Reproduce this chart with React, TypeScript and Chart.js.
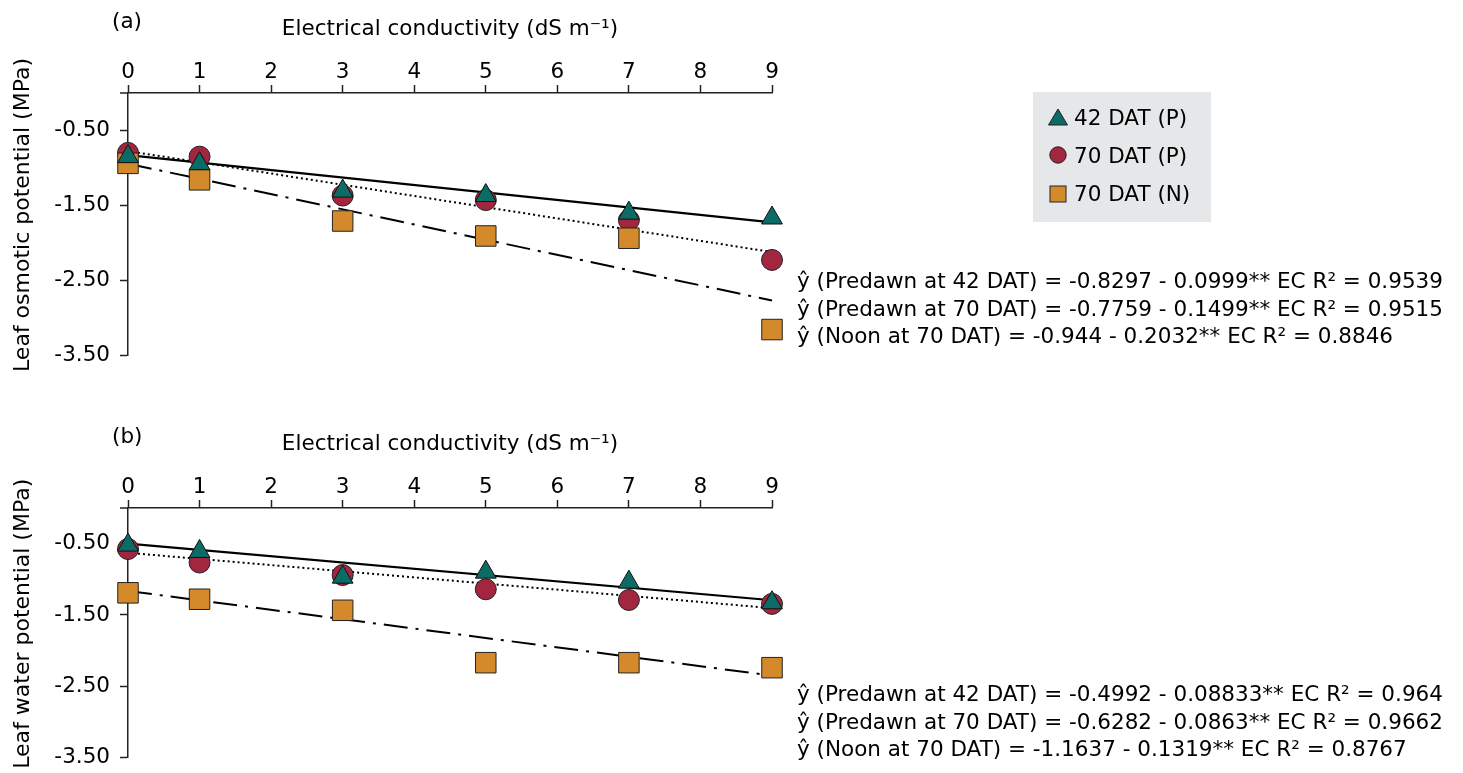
import React, { useEffect, useRef } from "react";
import { Chart, registerables } from "chart.js";

Chart.register(...registerables);

// ---------- data ----------
const ecLevels = [0, 1, 3, 5, 7, 9];
const xTickValues = [0, 1, 2, 3, 4, 5, 6, 7, 8, 9];
const yTickValues = [-0.5, -1.5, -2.5, -3.5];
const fitEC = [0, 9];
const seriesLabels = ["42 DAT (P)", "70 DAT (P)", "70 DAT (N)"];

// Panel (a) leaf osmotic potential
const osmotic42P = [-0.85, -0.945, -1.31, -1.37, -1.605, -1.67];
const osmotic70P = [-0.8, -0.85, -1.37, -1.43, -1.7, -2.23];
const osmotic70N = [-0.94, -1.16, -1.71, -1.91, -1.94, -3.16];
const osmoticFit42P = [-0.8297, -1.7288];
const osmoticFit70P = [-0.7759, -2.125];
const osmoticFit70N = [-0.944, -2.7728];
const osmoticEquations = [
  "ŷ (Predawn at 42 DAT) = -0.8297 - 0.0999** EC R² = 0.9539",
  "ŷ (Predawn at 70 DAT) = -0.7759 - 0.1499** EC R² = 0.9515",
  "ŷ (Noon at 70 DAT) = -0.944 - 0.2032** EC R² = 0.8846",
];

// Panel (b) leaf water potential
const water42P = [-0.52, -0.61, -0.97, -0.9, -1.04, -1.33];
const water70P = [-0.575, -0.765, -0.94, -1.14, -1.29, -1.345];
const water70N = [-1.19, -1.28, -1.435, -2.17, -2.17, -2.24];
const waterFit42P = [-0.4992, -1.2942];
const waterFit70P = [-0.6282, -1.4049];
const waterFit70N = [-1.1637, -2.3508];
const waterEquations = [
  "ŷ (Predawn at 42 DAT) = -0.4992 - 0.08833** EC R² = 0.964",
  "ŷ (Predawn at 70 DAT) = -0.6282 - 0.0863** EC R² = 0.9662",
  "ŷ (Noon at 70 DAT) = -1.1637 - 0.1319** EC R² = 0.8767",
];

// ---------- styles ----------
const TEAL = "#0c6b65";
const RED = "#a3263f";
const ORANGE = "#d4892a";
const AXIS = "#222";
const FONT = '"DejaVu Sans", sans-serif';
const FONT_SIZE = 21.5;

const toPts = (xs: number[], ys: number[]) => xs.map((x, i) => ({ x, y: ys[i] }));

const annotPlugin = {
  id: "annot",
  afterDraw(chart: any, _args: any, opts: any) {
    const ctx = chart.ctx as CanvasRenderingContext2D;
    const { left, top } = chart.chartArea;
    ctx.save();
    // small extension of the x axis left of the y axis
    ctx.strokeStyle = AXIS;
    ctx.lineWidth = 1.5;
    ctx.beginPath();
    ctx.moveTo(left - 8, top);
    ctx.lineTo(left, top);
    ctx.stroke();

    ctx.fillStyle = "#000";
    ctx.textBaseline = "alphabetic";
    ctx.textAlign = "left";
    ctx.font = `${FONT_SIZE}px ${FONT}`;
    ctx.fillText(opts.label, 112, 28);

    ctx.font = `${FONT_SIZE}px ${FONT}`;
    (opts.equations as string[]).forEach((t, i) => {
      ctx.fillText(t, 797, opts.eqY + i * 27.5);
    });

    if (opts.legend) {
      ctx.fillStyle = "#e6e7e9";
      ctx.fillRect(1033, 92, 178, 130);
      ctx.strokeStyle = "#222";
      ctx.lineWidth = 1;
      // triangle
      ctx.fillStyle = TEAL;
      ctx.beginPath();
      ctx.moveTo(1058, 109);
      ctx.lineTo(1067.5, 125);
      ctx.lineTo(1048.5, 125);
      ctx.closePath();
      ctx.fill();
      ctx.stroke();
      // circle
      ctx.fillStyle = RED;
      ctx.beginPath();
      ctx.arc(1058, 155, 8.2, 0, Math.PI * 2);
      ctx.fill();
      ctx.stroke();
      // square
      ctx.fillStyle = ORANGE;
      ctx.fillRect(1050, 186, 16, 16);
      ctx.strokeRect(1050, 186, 16, 16);

      ctx.fillStyle = "#000";
      ctx.font = `${FONT_SIZE}px ${FONT}`;
      const ys = [125, 163, 201];
      seriesLabels.forEach((t, i) => ctx.fillText(t, 1074, ys[i]));
    }
    ctx.restore();
  },
};

function buildConfig(
  v42: number[],
  v70P: number[],
  v70N: number[],
  f42: number[],
  f70P: number[],
  f70N: number[],
  yTitle: string,
  bottomPad: number,
  annot: any
): any {
  return {
    type: "scatter",
    data: {
      datasets: [
        {
          label: "fit 42 DAT (P)",
          data: toPts(fitEC, f42),
          showLine: true,
          borderColor: "#000",
          borderWidth: 2.2,
          pointRadius: 0,
          order: 10,
          clip: false,
        },
        {
          label: "fit 70 DAT (P)",
          data: toPts(fitEC, f70P),
          showLine: true,
          borderColor: "#000",
          borderWidth: 2,
          borderDash: [2, 3],
          pointRadius: 0,
          order: 11,
          clip: false,
        },
        {
          label: "fit 70 DAT (N)",
          data: toPts(fitEC, f70N),
          showLine: true,
          borderColor: "#000",
          borderWidth: 2,
          borderDash: [24, 8, 3, 8],
          pointRadius: 0,
          order: 12,
          clip: false,
        },
        {
          label: seriesLabels[1],
          data: toPts(ecLevels, v70P),
          pointStyle: "circle",
          pointRadius: 10.5,
          backgroundColor: RED,
          borderColor: "#222",
          borderWidth: 1,
          order: 3,
          clip: false,
        },
        {
          label: seriesLabels[2],
          data: toPts(ecLevels, v70N),
          pointStyle: "rect",
          pointRadius: 14.5,
          backgroundColor: ORANGE,
          borderColor: "#222",
          borderWidth: 1,
          order: 2,
          clip: false,
        },
        {
          label: seriesLabels[0],
          data: toPts(ecLevels, v42),
          pointStyle: "triangle",
          pointRadius: 12,
          backgroundColor: TEAL,
          borderColor: "#111",
          borderWidth: 1,
          order: 1,
          clip: false,
        },
      ],
    },
    options: {
      animation: false,
      responsive: false,
      maintainAspectRatio: false,
      layout: { padding: { left: 0, top: 0, right: 1463 - 772, bottom: bottomPad } },
      plugins: {
        legend: { display: false },
        tooltip: { enabled: false },
        annot,
      },
      scales: {
        x: {
          type: "linear",
          position: "top",
          min: 0,
          max: 9,
          afterBuildTicks: (s: any) => {
            s.ticks = xTickValues.map((v) => ({ value: v }));
          },
          afterFit: (s: any) => {
            s.height = 93;
          },
          ticks: {
            color: "#000",
            font: { family: FONT, size: FONT_SIZE },
            padding: 0,
            autoSkip: false,
            maxRotation: 0,
          },
          grid: {
            display: true,
            drawOnChartArea: false,
            drawTicks: true,
            tickLength: 8,
            tickColor: AXIS,
            tickWidth: 1.5,
          },
          border: { display: true, color: AXIS, width: 1.5 },
          title: {
            display: true,
            text: "Electrical conductivity (dS m⁻¹)",
            color: "#000",
            font: { family: FONT, size: FONT_SIZE },
            padding: { top: 17, bottom: 0 },
          },
        },
        y: {
          type: "linear",
          position: "left",
          min: -3.5,
          max: 0,
          afterBuildTicks: (s: any) => {
            s.ticks = yTickValues.map((v) => ({ value: v }));
          },
          afterFit: (s: any) => {
            s.width = 128;
            s.paddingTop = 0;
            s.paddingBottom = 0;
          },
          ticks: {
            color: "#000",
            font: { family: FONT, size: FONT_SIZE },
            padding: 10,
            callback: (v: any) => Number(v).toFixed(2),
          },
          grid: {
            display: true,
            drawOnChartArea: false,
            drawTicks: true,
            tickLength: 8,
            tickColor: AXIS,
            tickWidth: 1.5,
          },
          border: { display: true, color: AXIS, width: 1.5 },
          title: {
            display: true,
            text: yTitle,
            color: "#000",
            font: { family: FONT, size: 22 },
            padding: { top: 10, bottom: 0 },
          },
        },
      },
    },
    plugins: [annotPlugin],
  };
}

export default function App() {
  const refA = useRef<HTMLCanvasElement | null>(null);
  const refB = useRef<HTMLCanvasElement | null>(null);

  useEffect(() => {
    const a = new Chart(
      refA.current!,
      buildConfig(
        osmotic42P,
        osmotic70P,
        osmotic70N,
        osmoticFit42P,
        osmoticFit70P,
        osmoticFit70N,
        "\u2002\u00a0Leaf osmotic potential (MPa)",
        400 - 355,
        { label: "(a)", equations: osmoticEquations, eqY: 288, legend: true }
      )
    );
    const b = new Chart(
      refB.current!,
      buildConfig(
        water42P,
        water70P,
        water70N,
        waterFit42P,
        waterFit70P,
        waterFit70N,
        "\u2002\u00a0Leaf water potential (MPa)",
        358 - 352,
        { label: "(b)", equations: waterEquations, eqY: 286, legend: false }
      )
    );
    return () => {
      a.destroy();
      b.destroy();
    };
  }, []);

  return (
    <div
      style={{
        position: "absolute",
        left: 0,
        top: 0,
        width: 1463,
        height: 773,
        background: "#fff",
        overflow: "hidden",
      }}
    >
      <canvas
        ref={refA}
        width={1463}
        height={400}
        style={{ position: "absolute", left: 0, top: 0, width: 1463, height: 400 }}
      />
      <canvas
        ref={refB}
        width={1463}
        height={358}
        style={{ position: "absolute", left: 0, top: 415, width: 1463, height: 358 }}
      />
    </div>
  );
}
